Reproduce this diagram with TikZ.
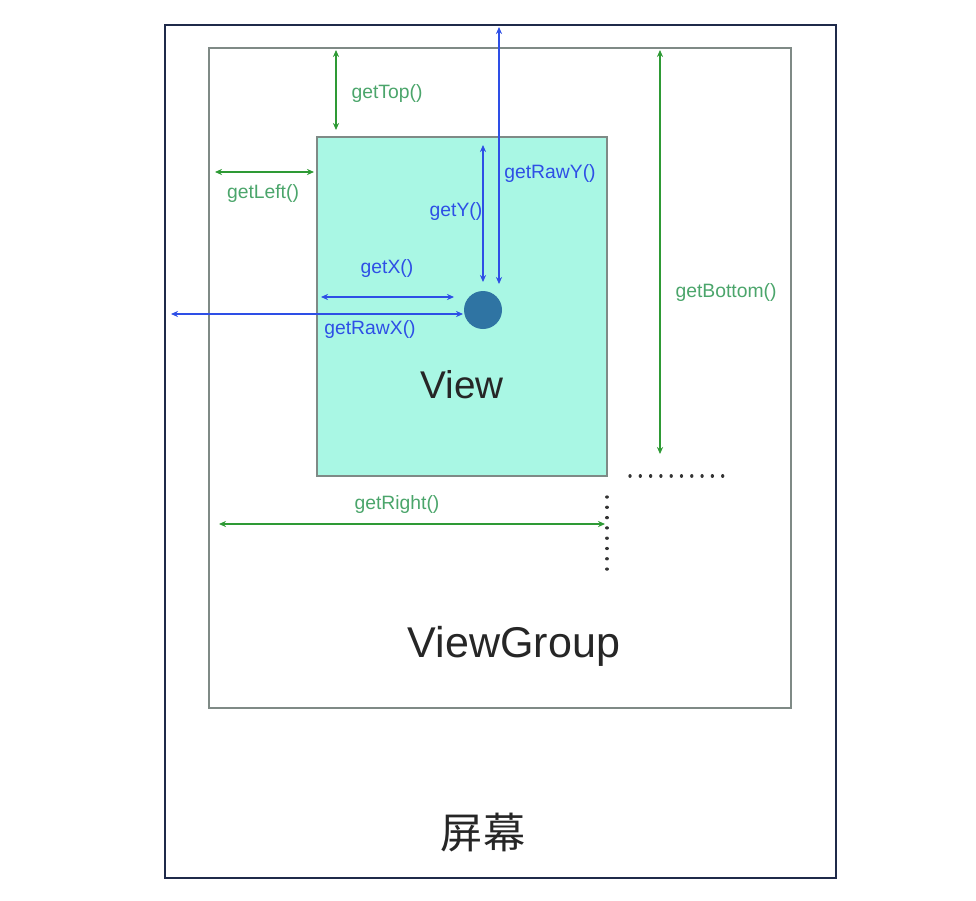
\documentclass[tikz,border=0pt]{standalone}
\usepackage{fontspec}
\setmainfont{Liberation Sans}
\newfontfamily\cjk{Noto Sans CJK SC}
\usepackage{xcolor}
\usetikzlibrary{arrows.meta}

\definecolor{screenblue}{HTML}{1F2A4A}
\definecolor{groupgray}{HTML}{7F8A86}
\definecolor{viewfill}{HTML}{A9F7E4}
\definecolor{dotblue}{HTML}{2F74A3}
\definecolor{armgreen}{HTML}{2E9A35}
\definecolor{txtgreen}{HTML}{4BA56B}
\definecolor{armblue}{HTML}{2E4FE6}

\tikzset{
    greenarm/.style={draw=armgreen, line width=0.7pt, {Stealth[length=4pt,width=3.5pt]}-{Stealth[length=4pt,width=3.5pt]}},
    bluearm/.style={draw=armblue, line width=0.7pt, {Stealth[length=4pt,width=3.5pt]}-{Stealth[length=4pt,width=3.5pt]}},
    greenlbl/.style={text=txtgreen, font=\fontsize{11}{13}\selectfont, inner sep=0pt},
    bluelbl/.style={text=armblue, font=\fontsize{11}{13}\selectfont, inner sep=0pt},
    dotrow/.style={draw=black!80, line width=1.9pt, dash pattern=on 0.01pt off 5.85pt, line cap=round}
}

\begin{document}
\begin{tikzpicture}[x=0.02cm, y=-0.02cm]
    \useasboundingbox (0,0) rectangle (976,900);
    % Screen, view group and view
    \draw[screenblue, line width=1.6pt] (165,25) rectangle (836,878);
    \draw[groupgray, line width=1pt] (209,48) rectangle (791,708);
    \draw[groupgray, line width=1pt, fill=viewfill] (317,137) rectangle (607,476);
    % Touch point
    \node[circle, fill=dotblue, minimum size=0.76cm, inner sep=0pt] (touch) at (483,310) {};
    % End points of the arrows
    \coordinate (topA) at (336,50);   \coordinate (topB) at (336,130);
    \coordinate (leftA) at (215,172); \coordinate (leftB) at (314,172);
    \coordinate (rawyA) at (499,27);  \coordinate (rawyB) at (499,284);
    \coordinate (yA) at (483,145);    \coordinate (yB) at (483,282);
    \coordinate (xA) at (321,297);    \coordinate (xB) at (454,297);
    \coordinate (rawxA) at (171,314); \coordinate (rawxB) at (463,314);
    \coordinate (botA) at (660,50);   \coordinate (botB) at (660,454);
    \coordinate (rightA) at (219,524); \coordinate (rightB) at (605,524);
    % Green arrows
    \draw[greenarm] (topA) -- (topB);
    \draw[greenarm] (leftA) -- (leftB);
    \draw[greenarm] (botA) -- (botB);
    \draw[greenarm] (rightA) -- (rightB);
    % Blue arrows
    \draw[bluearm] (rawyA) -- (rawyB);
    \draw[bluearm] (yA) -- (yB);
    \draw[bluearm] (xA) -- (xB);
    \draw[bluearm] (rawxA) -- (rawxB);
    % Dotted edges
    \coordinate (dotsA) at (630,476); \coordinate (dotsB) at (725,476);
    \coordinate (dotsC) at (607,497); \coordinate (dotsD) at (607,572);
    \draw[dotrow] (dotsA) -- (dotsB);
    \draw[dotrow] (dotsC) -- (dotsD);
    % Labels
    \node[greenlbl] (lblTop) at (387,93) {getTop()};
    \node[greenlbl] (lblLeft) at (263,193) {getLeft()};
    \node[greenlbl] (lblBottom) at (726,292) {getBottom()};
    \node[greenlbl] (lblRight) at (397,504) {getRight()};
    \node[bluelbl] (lblRawY) at (550,173) {getRawY()};
    \node[bluelbl] (lblY) at (456,211) {getY()};
    \node[bluelbl] (lblX) at (387,268) {getX()};
    \node[bluelbl] (lblRawX) at (370,329) {getRawX()};
    % Box names
    \node[font=\fontsize{22}{26}\selectfont, text=black!85] (lblView) at (462,385) {View};
    \node[font=\fontsize{24.5}{28}\selectfont, text=black!85] (lblGroup) at (514,646) {ViewGroup};
    \node[font=\cjk\fontsize{24}{28}\selectfont, text=black!85] (lblScreen) at (483,833) {屏幕};
\end{tikzpicture}
\end{document}
